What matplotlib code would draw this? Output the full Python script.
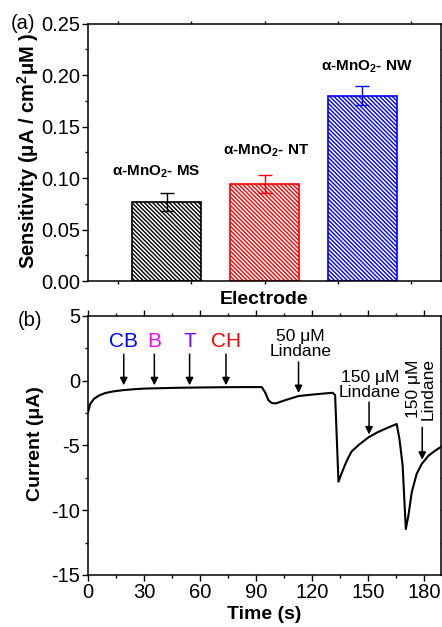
import matplotlib
matplotlib.use("Agg")
import matplotlib.pyplot as plt
from matplotlib.ticker import MultipleLocator, FixedLocator, NullFormatter

plt.rcParams['font.family'] = ['Liberation Sans', 'DejaVu Sans']
plt.rcParams['mathtext.fontset'] = 'custom'
plt.rcParams['mathtext.rm'] = 'Liberation Sans'
plt.rcParams['mathtext.bf'] = 'Liberation Sans:bold'
plt.rcParams['hatch.linewidth'] = 1.0
plt.rcParams['axes.unicode_minus'] = False

# ---------------- data ----------------
electrodes = [r'α-MnO$_\mathbf{2}$- MS', r'α-MnO$_\mathbf{2}$- NT', r'α-MnO$_\mathbf{2}$- NW']
sensitivity = [0.0765, 0.0942, 0.180]
sens_err = [0.0087, 0.0087, 0.009]
bar_colors = ['#000000', '#ff0000', '#0000ff']

time_s = [0, 1, 3, 5.5, 9, 13.5, 19, 25, 31, 40, 49, 60, 72, 83, 93,
          94.8, 96.6, 98.4, 100.5, 106, 112.7, 120, 126, 131,
          132.3, 134.1, 135.5, 137.6, 139.5, 141.2, 145, 150.2, 155, 160, 165.3,
          166.8, 168.5, 170.2, 171.6, 173.4, 176, 178.7, 182.3, 185.9, 188.9]
current_uA = [-2.35, -1.80, -1.40, -1.16, -0.95, -0.82, -0.72, -0.65, -0.60, -0.57, -0.54, -0.52, -0.50, -0.49, -0.49,
              -0.90, -1.52, -1.72, -1.75, -1.48, -1.18, -1.07, -0.99, -0.93,
              -1.10, -7.80, -7.25, -6.50, -5.90, -5.45, -4.95, -4.37, -3.98, -3.66, -3.34,
              -4.50, -6.56, -11.45, -10.40, -8.60, -7.20, -6.43, -5.80, -5.40, -5.12]

# interferent additions: label, colour, time of addition
interferents = ['CB', 'B', 'T', 'CH']
interf_colors = ['#0000ff', '#ff00ff', '#8000ff', '#ff0000']
interf_times = [19, 35.4, 54.3, 73.8]

lindane_labels = ['50 μM\nLindane', '150 μM\nLindane', '150 μM\nLindane']
lindane_times = [112.7, 150.5, 179.0]

# ---------------- figure ----------------
fig = plt.figure(figsize=(4.42, 6.27), dpi=100)
W, H = 442, 627

def axrect(l, t, r, b):
    return [l / W, 1 - b / H, (r - l) / W, (b - t) / H]

ax1 = fig.add_axes(axrect(88.3, 23.7, 440.7, 281))
ax2 = fig.add_axes(axrect(88.3, 316, 440.7, 575))

tick_fs = 14.5
lab_fs = 14

# ---- panel (a) ----
xpos = [1, 2, 3]
for x, v, e, c in zip(xpos, sensitivity, sens_err, bar_colors):
    ax1.bar(x, v, width=0.7, facecolor='white', edgecolor=c,
            hatch='\\\\\\\\\\\\\\\\', linewidth=1.2, zorder=2)
    ax1.errorbar(x, v, yerr=e, color=c, capsize=5, elinewidth=1.0,
                 capthick=1.0, zorder=3)

label_pos = [(0.894, 0.106), (2.02, 0.127), (3.04, 0.208)]
for (lx, ly), txt in zip(label_pos, electrodes):
    ax1.text(lx, ly, txt, ha='center', va='center', fontsize=11,
             fontweight='bold')

ax1.set_xlim(0.2, 3.8)
ax1.set_ylim(0, 0.25)
ax1.yaxis.set_major_locator(MultipleLocator(0.05))
ax1.yaxis.set_minor_locator(MultipleLocator(0.025))
ax1.yaxis.set_major_formatter(matplotlib.ticker.FormatStrFormatter('%.2f'))
ax1.xaxis.set_major_locator(FixedLocator([0.5, 1.25, 2.0, 2.75, 3.5]))
ax1.xaxis.set_major_formatter(NullFormatter())
ax1.set_ylabel('Sensitivity (μA / cm$^\\mathbf{2}$μM )', fontsize=14.5,
               fontweight='bold', va='center')
ax1.yaxis.set_label_coords(-0.172, 0.506)
ax1.set_xlabel('Electrode', fontsize=lab_fs, fontweight='bold', va='center')
ax1.xaxis.set_label_coords(0.5, -0.07)

# ---- panel (b) ----
ax2.plot(time_s, current_uA, color='black', lw=1.5, zorder=3)

arrow_kw = dict(arrowstyle='-|>', color='black', lw=1.1,
                mutation_scale=11, shrinkA=0, shrinkB=0)

for name, col, t in zip(interferents, interf_colors, interf_times):
    ax2.text(t, 3.0, name, color=col, ha='center', va='center', fontsize=15)
    ax2.annotate('', xy=(t, -0.35), xytext=(t, 2.05), arrowprops=arrow_kw)

# 50 uM lindane
ax2.text(113.6, 2.85, lindane_labels[0], ha='center', va='center',
         fontsize=12.5, linespacing=0.95)
ax2.annotate('', xy=(lindane_times[0], -0.95), xytext=(lindane_times[0], 1.45),
             arrowprops=arrow_kw)
# 150 uM lindane
ax2.text(151.0, -0.32, lindane_labels[1], ha='center', va='center',
         fontsize=12.5, linespacing=0.95)
ax2.annotate('', xy=(lindane_times[1], -4.15), xytext=(lindane_times[1], -1.65),
             arrowprops=arrow_kw)
# 150 uM lindane (rotated)
ax2.text(178.3, -0.65, lindane_labels[2], ha='center', va='center',
         fontsize=12.5, linespacing=0.95, rotation=90)
ax2.annotate('', xy=(lindane_times[2], -6.1), xytext=(lindane_times[2], -3.6),
             arrowprops=arrow_kw)

ax2.set_xlim(0, 188.9)
ax2.set_ylim(-15, 5)
ax2.xaxis.set_major_locator(MultipleLocator(30))
ax2.xaxis.set_minor_locator(MultipleLocator(15))
ax2.yaxis.set_major_locator(MultipleLocator(5))
ax2.yaxis.set_minor_locator(MultipleLocator(2.5))
ax2.set_ylabel('Current (μA)', fontsize=lab_fs, fontweight='bold', va='center')
ax2.yaxis.set_label_coords(-0.151, 0.508)
ax2.set_xlabel('Time (s)', fontsize=lab_fs, fontweight='bold', va='center')
ax2.xaxis.set_label_coords(0.5, -0.154)

for ax in (ax1, ax2):
    for sp in ax.spines.values():
        sp.set_linewidth(1.1)
    ax.tick_params(which='both', direction='out', top=True, right=True,
                   labelsize=tick_fs, width=1.0, pad=1.5)
    ax.tick_params(which='major', length=4.3)
    ax.tick_params(which='minor', length=2.5)
    ax.tick_params(axis='x', which='both', labeltop=False)

ax1.tick_params(axis='x', which='major', length=2.5)

fig.text(23.3 / W, 1 - 23.3 / H, '(a)', ha='center', va='center', fontsize=14.5)
fig.text(30 / W, 1 - 320 / H, '(b)', ha='center', va='center', fontsize=14.5)

fig.savefig('out.png', dpi=100)
